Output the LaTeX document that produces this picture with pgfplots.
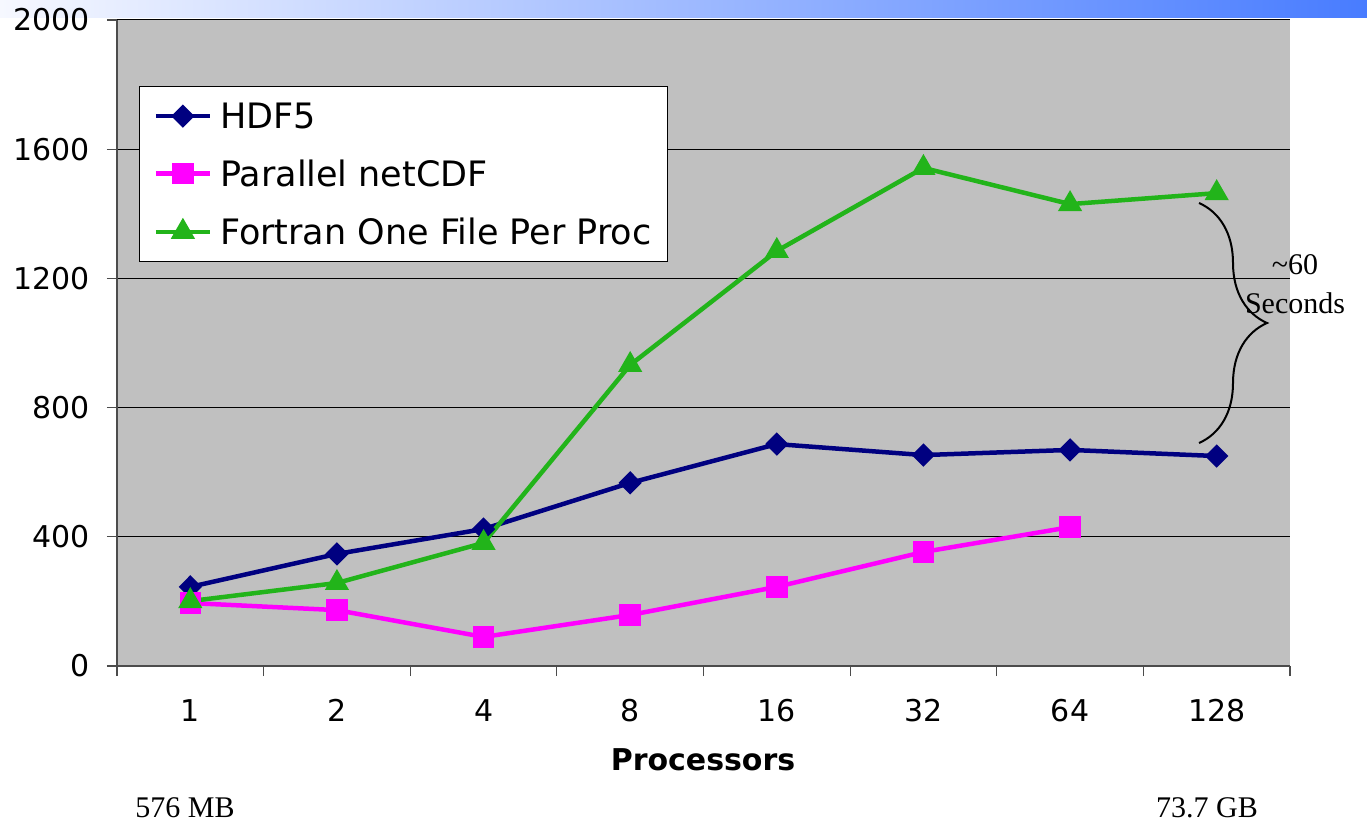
\documentclass[border=0pt]{standalone}
\usepackage{pgfplots}
\pgfplotsset{compat=1.18}
\usepackage{fontspec}
\setmainfont{DejaVu Sans}
\newfontfamily\tnr{Liberation Serif}
\usetikzlibrary{decorations.pathreplacing}
\definecolor{hdfblue}{RGB}{0,0,128}
\definecolor{ncmag}{RGB}{255,0,255}
\definecolor{fgreen}{RGB}{34,180,26}
\definecolor{plotgray}{RGB}{192,192,192}
\definecolor{barblue}{RGB}{72,124,255}
\definecolor{barlight}{RGB}{246,248,255}

\begin{document}
\begin{tikzpicture}[x=1pt,y=1pt]
\path (0,0) rectangle (1367,823);
\shade[left color=barlight, right color=barblue] (0,805) rectangle (1367,823);
\begin{axis}[
    at={(117pt,157pt)}, anchor=south west,
    scale only axis, width=1173pt, height=646pt,
    xmin=-0.5, xmax=7.5, ymin=0, ymax=2000,
    axis background/.style={fill=plotgray},
    axis x line*=bottom, axis y line*=left,
    axis line style={-, black!70, line width=1.2pt},
    xtick pos=bottom, ytick pos=left,
    tick align=outside, major tick length=10pt,
    tick style={black!70, line width=1.2pt},
    % separators between the categories
    xtick={-0.5,0.5,...,7.5}, xticklabels={},
    % category names
    extra x ticks={0,1,2,3,4,5,6,7},
    extra x tick labels={1,2,4,8,16,32,64,128},
    extra x tick style={major tick length=0pt, xticklabel style={yshift=-30pt}},
    ytick={0,400,...,2000},
    ymajorgrids, major grid style={black, line width=1pt},
    ticklabel style={font=\fontsize{30}{36}\selectfont},
    /pgf/number format/assume math mode=true,
    /pgf/number format/1000 sep={},
    yticklabel style={xshift=-14pt},
    clip=false,
    legend style={at={(0.0188,0.8978)}, anchor=north west,
        draw=black, fill=white, line width=1.2pt,
        font=\fontsize{35}{40}\selectfont,
        inner xsep=14pt, inner ysep=14pt, row sep=26pt,
        /tikz/every odd column/.append style={column sep=6pt}},
    legend cell align=left,
    legend image code/.code={
        \draw[mark repeat=2, mark phase=2] plot coordinates {(0pt,0pt) (27pt,0pt) (54pt,0pt)};
    },
]
\addplot[hdfblue, line width=4.5pt, mark=diamond*, mark size=8.5pt,
    mark options={solid, xscale=1.33}] coordinates {
    (0,245) (1,347) (2,424) (3,567) (4,687) (5,653) (6,669) (7,650)
};
\addplot[ncmag, line width=4.5pt, mark=square*, mark size=8.5pt,
    mark options={solid}] coordinates {
    (0,195) (1,173) (2,90) (3,158) (4,245) (5,353) (6,430)
};
\addplot[fgreen, line width=4.5pt, mark=triangle*, mark size=9.5pt,
    mark options={solid}] coordinates {
    (0,201) (1,257) (2,381) (3,932) (4,1285) (5,1542) (6,1430) (7,1464)
};
\legend{HDF5, Parallel netCDF, Fortran One File Per Proc}
\end{axis}
% brace and notes
\draw[line width=2pt, decorate, decoration={brace, amplitude=68pt}] (1199,620) -- (1199,380);
\node[font=\tnr\fontsize{30}{36}\selectfont] at (1295,558) {\textasciitilde 60};
\node[font=\tnr\fontsize{30}{36}\selectfont] at (1295,520) {Seconds};
\node[font=\bfseries\fontsize{30}{36}\selectfont] at (703,63) {Processors};
\node[font=\tnr\fontsize{30}{36}\selectfont] at (185,15) {576 MB};
\node[font=\tnr\fontsize{30}{36}\selectfont] at (1207,15) {73.7 GB};
\end{tikzpicture}
\end{document}
